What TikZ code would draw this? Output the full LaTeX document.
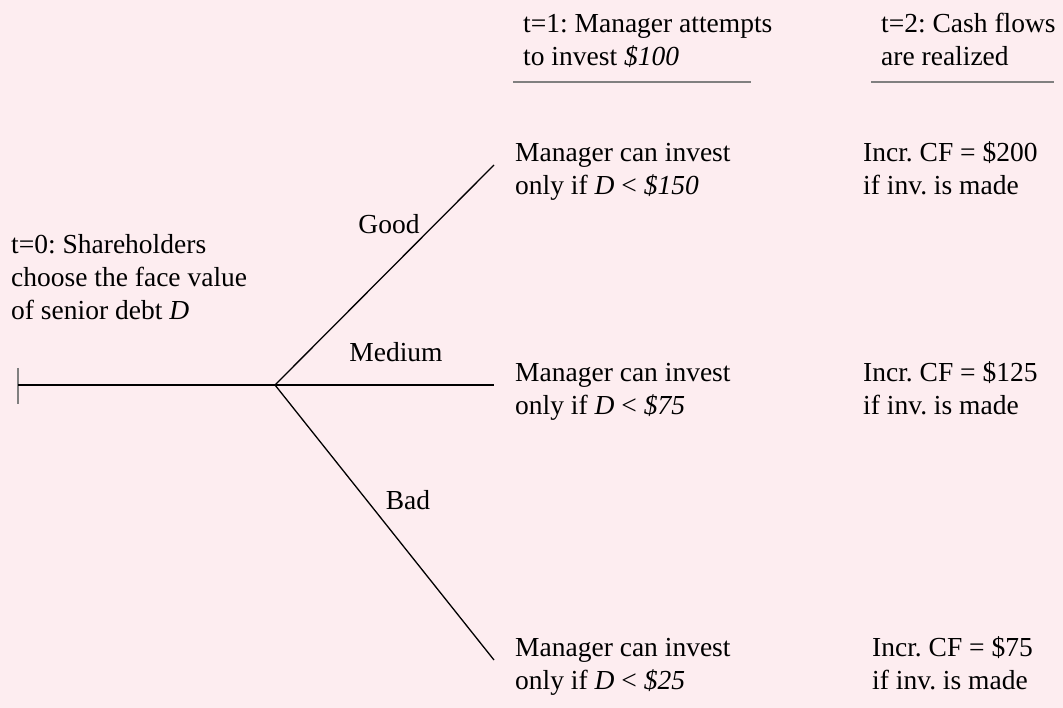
\documentclass[tikz,border=0pt]{standalone}
\usepackage{fontspec}
\setmainfont{Liberation Serif}
\frenchspacing
\definecolor{bg}{RGB}{253,237,240}
\definecolor{rulegray}{RGB}{128,128,128}
\begin{document}
\begin{tikzpicture}[x=1pt,y=-1pt,
  txt/.style={anchor=base west, inner sep=0pt, align=left, font=\fontsize{27.5}{33}\selectfont\frenchspacing},
  lbl/.style={anchor=base, inner sep=0pt, font=\fontsize{27.5}{33}\selectfont},
  branch/.style={line width=1.3pt, black},
  rulel/.style={line width=1.3pt, rulegray}]
\fill[bg] (0,0) rectangle (1063,708);
\useasboundingbox (0,0) rectangle (1063,708);
% headers (base anchor = baseline of last line)
\node[txt] (h1) at (523,66) {t=1: Manager attempts\\to invest \textit{\$100}};
\node[txt] (h2) at (881,66) {t=2: Cash flows\\are realized};
\coordinate (u1a) at (513,82); \coordinate (u1b) at (751,82);
\coordinate (u2a) at (871,82); \coordinate (u2b) at (1054,82);
\draw[rulel] (u1a) -- (u1b);
\draw[rulel] (u2a) -- (u2b);
% t=0
\node[txt] (h0) at (11,320) {t=0: Shareholders\\choose the face value\\of senior debt \textit{D}};
% tree
\coordinate (tt) at (18,368); \coordinate (tb) at (18,404);
\coordinate (start) at (18,385);
\coordinate (root) at (275,385);
\coordinate (eg) at (494,165);
\coordinate (em) at (494,385);
\coordinate (eb) at (494,660);
\draw[rulel] (tt) -- (tb);
\draw[branch] (start) -- (root);
\draw[branch] (root) -- (eg);
\draw[branch] (root) -- (em);
\draw[branch] (root) -- (eb);
\node[lbl] (good) at (389,234) {Good};
\node[lbl] (medium) at (396,362) {Medium};
\node[lbl] (bad) at (408,509) {Bad};
% outcomes
\node[txt] (m1) at (515,195) {Manager can invest\\only if \textit{D} < \textit{\$150}};
\node[txt] (m2) at (515,415) {Manager can invest\\only if \textit{D} < \textit{\$75}};
\node[txt] (m3) at (515,689) {Manager can invest\\only if \textit{D} < \textit{\$25}};
\node[txt] (c1) at (863,195) {Incr. CF = \$200\\if inv. is made};
\node[txt] (c2) at (863,415) {Incr. CF = \$125\\if inv. is made};
\node[txt] (c3) at (872,689) {Incr. CF = \$75\\if inv. is made};
\end{tikzpicture}
\end{document}
